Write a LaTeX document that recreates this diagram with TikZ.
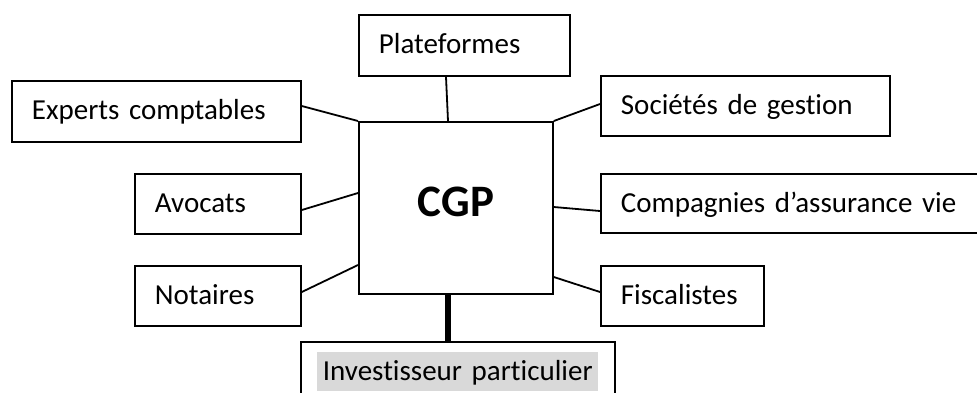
\documentclass[tikz,border=0pt]{standalone}
\usepackage{fontspec}
\setmainfont{Carlito}[Ligatures={NoCommon}]
\usetikzlibrary{calc}
\definecolor{hl}{HTML}{D9D9D9}
\begin{document}
\begin{tikzpicture}[x=1pt,y=-1pt,
  box/.style={draw, line width=1.8pt, anchor=north west, inner xsep=20pt,
    inner ysep=0pt, align=left, text height=39pt,
    font=\fontsize{29}{34}\selectfont},
  centre/.style={draw, line width=1.8pt, anchor=north west, inner sep=0pt,
    minimum width=194pt, minimum height=172pt, text depth=12pt,
    font=\fontsize{45}{54}\selectfont\bfseries},
  conn/.style={line width=1.8pt},
  heavy/.style={line width=6pt}]
\clip (0,0) rectangle (977,392);
\node[box, text width=171pt, text depth=22pt] (plat) at (358,14) {Plateformes};
\node[box, text width=249pt, text depth=22pt] (exp) at (11,80) {Experts comptables};
\node[box, text width=249pt, text depth=21pt] (soc) at (600,75) {Sociétés de gestion};
\node[box, text width=360pt, text depth=20pt] (comp) at (600,173) {Compagnies d’assurance vie};
\node[box, text width=126pt, text depth=21pt] (avo) at (134,173) {Avocats};
\node[box, text width=126pt, text depth=21pt] (not) at (134,265) {Notaires};
\node[box, text width=123pt, text depth=21pt] (fisc) at (600,265) {Fiscalistes};
\node[centre] (cgp) at (358,121) {CGP};
\node[box, inner xsep=16pt, text width=282pt, text depth=41pt] (inv) at (300,341)
  {\setlength{\fboxsep}{0pt}\colorbox{hl}{\hspace{6pt}\rule[-10pt]{0pt}{39pt}Investisseur particulier\hspace{5pt}}};
\draw[conn] ($(plat.south west)+(88,0)$) -- ($(cgp.north west)+(90,0)$);
\draw[conn] ($(exp.north east)+(0,26)$) -- (cgp.north west);
\draw[conn] (cgp.north east) -- ($(soc.north west)+(0,29)$);
\draw[conn] ($(cgp.north east)+(0,86)$) -- ($(comp.north west)+(0,38)$);
\draw[conn] ($(cgp.north east)+(0,156)$) -- ($(fisc.north west)+(0,27)$);
\draw[conn] ($(avo.north east)+(0,37)$) -- ($(cgp.north west)+(0,72)$);
\draw[conn] ($(not.north east)+(0,27)$) -- ($(cgp.north west)+(0,144)$);
\draw[heavy] ($(cgp.south west)+(90,0)$) -- ($(inv.north west)+(148,0)$);
\end{tikzpicture}
\end{document}
